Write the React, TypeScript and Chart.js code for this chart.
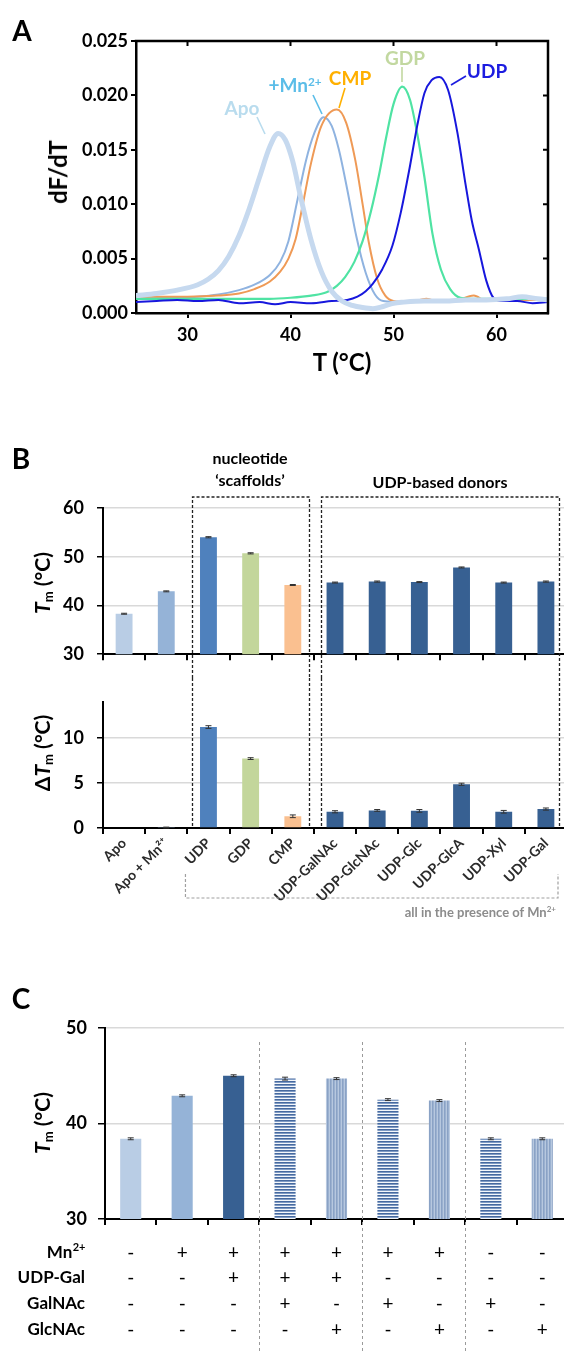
import React, { useEffect, useRef } from "react";
import { Chart, registerables } from "chart.js";
Chart.register(...registerables);

const FONT = "Lato, 'Open Sans', 'DejaVu Sans', sans-serif";
Chart.defaults.font.family = FONT;

// ---------------- Panel A data ----------------
const aXTicks = [30, 40, 50, 60];
const aYTicks = [0, 0.005, 0.01, 0.015, 0.02, 0.025];

const apoT = [25, 27, 29, 31, 32, 33, 34, 35, 36, 37, 38, 38.8, 39.5, 40.2, 41, 42, 43, 44, 45, 46, 47, 48, 49, 50, 51, 53, 55, 57, 59, 61, 62.5, 64, 65];
const apoDF = [0.0016, 0.0018, 0.0021, 0.0026, 0.0031, 0.0039, 0.0052, 0.0071, 0.0096, 0.0125, 0.0153, 0.0165, 0.0159, 0.014, 0.0106, 0.0067, 0.0038, 0.002, 0.0011, 0.0007, 0.0005, 0.0004, 0.0006, 0.0009, 0.001, 0.0011, 0.0011, 0.0012, 0.0012, 0.0013, 0.0015, 0.0013, 0.0012];

const mnT = [25, 28, 31, 33, 35, 36.5, 38, 39, 39.8, 40.7, 41.5, 42.3, 43.2, 44, 44.7, 45.5, 46.4, 47.3, 48.2, 49, 51, 55, 60, 65];
const mnDF = [0.0013, 0.0014, 0.0015, 0.0017, 0.0021, 0.0026, 0.0035, 0.0047, 0.0066, 0.0105, 0.014, 0.0165, 0.018, 0.0172, 0.015, 0.0114, 0.007, 0.0037, 0.0017, 0.0011, 0.001, 0.0011, 0.0012, 0.0012];

const cmpT = [25, 30, 33, 35, 36.5, 38, 39, 39.8, 40.5, 41.2, 42, 43, 44.5, 45.4, 46.3, 47, 47.6, 48.4, 49.2, 50, 51.5, 53.2, 54.5, 56, 57.8, 59, 62, 65];
const cmpDF = [0.0015, 0.0015, 0.0016, 0.0018, 0.0022, 0.0029, 0.0038, 0.005, 0.0068, 0.01, 0.0138, 0.0172, 0.0187, 0.0175, 0.014, 0.01, 0.0065, 0.0032, 0.0016, 0.0011, 0.001, 0.0013, 0.001, 0.0011, 0.0016, 0.0011, 0.0012, 0.0012];

const gdpT = [25, 30, 35, 38, 40, 42, 43.5, 44.5, 45.3, 46.2, 47, 47.8, 48.6, 49.3, 50, 50.85, 51.6, 52.3, 53, 53.8, 54.6, 55.5, 56.5, 58, 65];
const gdpDF = [0.0013, 0.0013, 0.0013, 0.0013, 0.0014, 0.0016, 0.0019, 0.0025, 0.0033, 0.0047, 0.0066, 0.0093, 0.0127, 0.0162, 0.0192, 0.0208, 0.0196, 0.0165, 0.0125, 0.0072, 0.004, 0.0022, 0.0014, 0.0013, 0.0013];

const udpT = [25, 27, 29, 31, 33, 35, 37, 38.5, 40, 42, 44, 45.5, 46.5, 47.3, 48, 48.9, 49.9, 50.7, 51.5, 52.3, 53, 53.7, 54.45, 55.3, 56.2, 57, 57.6, 58.3, 59, 59.7, 60.5, 62, 63.5, 65];
const udpDF = [0.001, 0.0011, 0.0012, 0.0011, 0.0012, 0.0009, 0.001, 0.0008, 0.001, 0.0009, 0.0011, 0.0012, 0.0015, 0.002, 0.0027, 0.004, 0.0062, 0.0092, 0.013, 0.0172, 0.0202, 0.0214, 0.0217, 0.0205, 0.0166, 0.0118, 0.0085, 0.0058, 0.003, 0.0014, 0.0011, 0.0011, 0.0009, 0.001];

// ---------------- Panel B data ----------------
const bCategories = ["Apo", "Apo + Mn²⁺", "UDP", "GDP", "CMP", "UDP-GalNAc", "UDP-GlcNAc", "UDP-Glc", "UDP-GlcA", "UDP-Xyl", "UDP-Gal"];
const bTm = [38.3, 42.9, 54.0, 50.7, 44.2, 44.7, 44.9, 44.8, 47.8, 44.7, 44.9];
const bTmErr = [0.1, 0.1, 0.12, 0.12, 0.1, 0.1, 0.12, 0.1, 0.1, 0.1, 0.12];
const bDTm = [0, 0.05, 11.2, 7.7, 1.3, 1.8, 1.95, 1.9, 4.85, 1.8, 2.1];
const bDTmErr = [0, 0.05, 0.15, 0.1, 0.15, 0.12, 0.1, 0.15, 0.12, 0.15, 0.12];
const bColors = ["#b9cde5", "#95b3d7", "#4f81bd", "#c3d69b", "#fac090", "#376092", "#376092", "#376092", "#376092", "#376092", "#376092"];

// ---------------- Panel C data ----------------
const cCategories = ["1", "2", "3", "4", "5", "6", "7", "8", "9"];
const cTm = [38.4, 42.9, 45.0, 44.7, 44.7, 42.5, 42.4, 38.4, 38.4];
const cTmErr = [0.1, 0.1, 0.1, 0.15, 0.1, 0.1, 0.1, 0.1, 0.1];
const cFills = ["solid1", "solid2", "solid3", "h", "v", "h", "v", "h", "v"];
const rowMn = ["-", "+", "+", "+", "+", "+", "+", "-", "-"];
const rowUdpGal = ["-", "-", "+", "+", "+", "-", "-", "-", "-"];
const rowGalNAc = ["-", "-", "-", "+", "-", "+", "-", "+", "-"];
const rowGlcNAc = ["-", "-", "-", "-", "+", "-", "+", "-", "+"];

const pts = (t: number[], y: number[]) => t.map((v, i) => ({ x: v, y: y[i] }));

// ---------------- plugins ----------------
const errPlugin = {
  id: "errbars",
  afterDatasetsDraw(chart: any, _a: any, opts: any) {
    if (!opts || !opts.errors) return;
    const meta = chart.getDatasetMeta(0);
    const ys = chart.scales.y;
    const ctx = chart.ctx;
    ctx.save();
    ctx.strokeStyle = opts.color || "#333";
    ctx.lineWidth = 1;
    meta.data.forEach((bar: any, i: number) => {
      const e = opts.errors[i];
      if (!e) return;
      const v = chart.data.datasets[0].data[i];
      const y1 = ys.getPixelForValue(v + e);
      const y2 = ys.getPixelForValue(Math.max(v - e, ys.min));
      const c = (opts.cap || 6) / 2;
      ctx.beginPath();
      ctx.moveTo(bar.x, y1);
      ctx.lineTo(bar.x, y2);
      ctx.moveTo(bar.x - c, y1);
      ctx.lineTo(bar.x + c, y1);
      ctx.moveTo(bar.x - c, y2);
      ctx.lineTo(bar.x + c, y2);
      ctx.stroke();
    });
    ctx.restore();
  },
};

const frameAPlugin = {
  id: "frameA",
  afterDraw(chart: any, _a: any, opts: any) {
    const { ctx, chartArea } = chart;
    const { left, right, top, bottom } = chartArea;
    const xs = chart.scales.x;
    const ys = chart.scales.y;
    ctx.save();
    ctx.strokeStyle = "#000";
    ctx.lineWidth = 2.5;
    ctx.beginPath();
    ctx.moveTo(left - 1.25, top);
    ctx.lineTo(right, top);
    ctx.lineTo(right, bottom + 1.25);
    ctx.stroke();
    ctx.lineWidth = 2;
    ctx.beginPath();
    aXTicks.forEach((v) => {
      const px = xs.getPixelForValue(v);
      ctx.moveTo(px, top);
      ctx.lineTo(px, top + 5);
    });
    aYTicks.forEach((v) => {
      const py = ys.getPixelForValue(v);
      ctx.moveTo(right, py);
      ctx.lineTo(right - 5, py);
    });
    ctx.stroke();
    (opts.leaders || []).forEach((l: any) => {
      ctx.strokeStyle = l.color;
      ctx.lineWidth = 1.6;
      ctx.beginPath();
      ctx.moveTo(l.x1, l.y1);
      ctx.lineTo(l.x2, l.y2);
      ctx.stroke();
    });
    ctx.restore();
  },
};

const boxPlugin = {
  id: "boxes",
  afterDraw(chart: any, _a: any, opts: any) {
    if (!opts || !opts.boxes) return;
    const { ctx } = chart;
    const xs = chart.scales.x;
    ctx.save();
    ctx.setLineDash([3, 2]);
    ctx.strokeStyle = "#222";
    ctx.lineWidth = 1.3;
    const bottom = opts.toChartBottom ? chart.chartArea.bottom : chart.height;
    opts.boxes.forEach((b: any) => {
      const l = Math.round(xs.getPixelForValue(b.from) - b.padL) + 0.5;
      const r = Math.round(xs.getPixelForValue(b.to) + b.padR) + 0.5;
      ctx.beginPath();
      if (opts.top != null) {
        ctx.moveTo(l, bottom);
        ctx.lineTo(l, opts.top);
        ctx.lineTo(r, opts.top);
        ctx.lineTo(r, bottom);
      } else {
        ctx.moveTo(l, 0);
        ctx.lineTo(l, bottom);
        ctx.moveTo(r, 0);
        ctx.lineTo(r, bottom);
      }
      ctx.stroke();
    });
    if (opts.bracket) {
      const br = opts.bracket;
      const l = xs.getPixelForValue(br.from) - br.padL;
      ctx.strokeStyle = "#a0a0a0";
      ctx.lineWidth = 1.2;
      ctx.beginPath();
      ctx.moveTo(l, br.y0);
      ctx.lineTo(l, br.y1);
      ctx.lineTo(br.right, br.y1);
      ctx.lineTo(br.right, br.y0);
      ctx.stroke();
    }
    ctx.restore();
  },
};

const tablePlugin = {
  id: "tableC",
  afterDraw(chart: any, _a: any, opts: any) {
    if (!opts || !opts.rows) return;
    const { ctx } = chart;
    const xs = chart.scales.x;
    ctx.save();
    ctx.setLineDash([3, 3]);
    ctx.strokeStyle = "#9a9a9a";
    ctx.lineWidth = 1;
    opts.separators.forEach((i: number) => {
      const px = Math.round((xs.getPixelForValue(i) + xs.getPixelForValue(i + 1)) / 2) + 0.5;
      ctx.beginPath();
      ctx.moveTo(px, opts.sepTop);
      ctx.lineTo(px, chart.height);
      ctx.stroke();
    });
    ctx.setLineDash([]);
    ctx.fillStyle = "#000";
    ctx.textBaseline = "middle";
    opts.rows.forEach((row: any, r: number) => {
      const yy = opts.rowY[r];
      const big = "bold 17px " + FONT;
      const small = "bold 11px " + FONT;
      ctx.font = big;
      const wMain = ctx.measureText(row.label).width;
      let wSup = 0;
      if (row.sup) {
        ctx.font = small;
        wSup = ctx.measureText(row.sup).width;
      }
      const x0 = opts.labelRight - wMain - wSup;
      ctx.font = big;
      ctx.textAlign = "left";
      ctx.fillText(row.label, x0, yy);
      if (row.sup) {
        ctx.font = small;
        ctx.fillText(row.sup, x0 + wMain + 0.5, yy - 6);
      }
      ctx.font = "19px " + FONT;
      ctx.textAlign = "center";
      row.values.forEach((s: string, i: number) => {
        ctx.fillText(s, xs.getPixelForValue(i), yy);
      });
    });
    ctx.restore();
  },
};

function makePattern(kind: string): any {
  const c = document.createElement("canvas");
  const g = c.getContext("2d") as CanvasRenderingContext2D;
  if (kind === "h") {
    c.width = 4;
    c.height = 3;
    const cols = ["#46699f", "#7f9bc4", "#f4f7fb"];
    cols.forEach((col, i) => {
      g.fillStyle = col;
      g.fillRect(0, i, 4, 1);
    });
  } else {
    c.width = 3;
    c.height = 4;
    const cols = ["#8aa2c5", "#9bb1d0", "#b7c8df"];
    cols.forEach((col, i) => {
      g.fillStyle = col;
      g.fillRect(i, 0, 1, 4);
    });
  }
  return g.createPattern(c, "repeat");
}

const tickFont = (size: number) => ({ family: FONT, size, weight: "bold" as const });

export default function App() {
  const aRef = useRef<HTMLCanvasElement>(null);
  const b1Ref = useRef<HTMLCanvasElement>(null);
  const b2Ref = useRef<HTMLCanvasElement>(null);
  const cRef = useRef<HTMLCanvasElement>(null);

  useEffect(() => {
    const charts: Chart[] = [];

    // ---------- Panel A ----------
    charts.push(
      new Chart(aRef.current as HTMLCanvasElement, {
        type: "line",
        data: {
          datasets: [
            { label: "Apo", data: pts(apoT, apoDF), borderColor: "#c6d9ef", borderWidth: 5 },
            { label: "UDP", data: pts(udpT, udpDF), borderColor: "#1717dd", borderWidth: 2 },
            { label: "GDP", data: pts(gdpT, gdpDF), borderColor: "#4fe3a3", borderWidth: 2.2 },
            { label: "CMP", data: pts(cmpT, cmpDF), borderColor: "#ef9a56", borderWidth: 2 },
            { label: "+Mn", data: pts(mnT, mnDF), borderColor: "#8fb3e0", borderWidth: 2 },
          ] as any,
        },
        options: {
          animation: false,
          responsive: false,
          maintainAspectRatio: false,
          elements: { point: { radius: 0 }, line: { cubicInterpolationMode: "monotone", fill: false } },
          layout: { autoPadding: false, padding: { left: 0, top: 41, right: 32, bottom: 27 } } as any,
          plugins: {
            legend: { display: false },
            tooltip: { enabled: false },
            frameA: {
              leaders: [
                { x1: 257, y1: 117, x2: 265, y2: 134, color: "#b9dcee" },
                { x1: 313, y1: 95, x2: 322, y2: 114, color: "#5bbde8" },
                { x1: 345, y1: 88, x2: 339, y2: 108, color: "#ffb000" },
                { x1: 402, y1: 67, x2: 402, y2: 82, color: "#c2d8a0" },
                { x1: 466, y1: 76, x2: 451, y2: 85, color: "#1c1ce0" },
              ],
            },
          } as any,
          scales: {
            x: {
              type: "linear",
              min: 25,
              max: 65,
              afterFit: (s: any) => {
                s.height = 40;
              },
              afterBuildTicks: (s: any) => {
                s.ticks = aXTicks.map((v) => ({ value: v }));
              },
              border: { display: true, color: "#000", width: 2.5 },
              grid: { drawOnChartArea: false, drawTicks: true, tickLength: 5, color: "#000", lineWidth: 2 },
              ticks: { font: tickFont(18), color: "#000", padding: 6 },
            },
            y: {
              min: 0,
              max: 0.025,
              afterFit: (s: any) => {
                s.width = 136;
              },
              afterBuildTicks: (s: any) => {
                s.ticks = aYTicks.map((v) => ({ value: v }));
              },
              border: { display: true, color: "#000", width: 2.5 },
              grid: { drawOnChartArea: false, drawTicks: true, tickLength: 5, color: "#000", lineWidth: 2 },
              ticks: { font: tickFont(18), color: "#000", padding: 3, callback: (v: any) => Number(v).toFixed(3) },
            },
          } as any,
        },
        plugins: [frameAPlugin],
      })
    );

    // ---------- Panel B (upper: Tm) ----------
    const bYBase = {
      border: { display: true, color: "#000", width: 2 },
      grid: { drawOnChartArea: true, drawTicks: true, tickLength: 6, color: "#d9d9d9", lineWidth: 1.5, tickColor: "#000" },
      afterFit: (s: any) => {
        s.width = 103;
      },
    };
    charts.push(
      new Chart(b1Ref.current as HTMLCanvasElement, {
        type: "bar",
        data: {
          labels: bCategories,
          datasets: [{ data: bTm, backgroundColor: bColors, borderWidth: 0, barPercentage: 0.4, categoryPercentage: 1 }],
        },
        options: {
          animation: false,
          responsive: false,
          maintainAspectRatio: false,
          layout: { autoPadding: false, padding: { left: 0, top: 68, right: 13, bottom: 0 } } as any,
          plugins: {
            legend: { display: false },
            tooltip: { enabled: false },
            errbars: { errors: bTmErr, cap: 6, color: "#333" },
            boxes: {
              top: 57,
              boxes: [
                { from: 2, to: 4, padL: 16, padR: 16.5 },
                { from: 5, to: 10, padL: 14, padR: 13.5 },
              ],
            },
          } as any,
          scales: {
            x: {
              afterFit: (s: any) => {
                s.height = 20;
              },
              border: { display: true, color: "#000", width: 2 },
              grid: { drawOnChartArea: false, drawTicks: true, tickLength: 6, color: "#000", lineWidth: 2, offset: true },
              ticks: { display: false },
            },
            y: {
              ...bYBase,
              min: 30,
              max: 60,
              ticks: { stepSize: 10, font: tickFont(18), color: "#000", padding: 13 },
            },
          } as any,
        },
        plugins: [errPlugin, boxPlugin],
      })
    );

    // ---------- Panel B (lower: dTm) ----------
    charts.push(
      new Chart(b2Ref.current as HTMLCanvasElement, {
        type: "bar",
        data: {
          labels: bCategories,
          datasets: [{ data: bDTm, backgroundColor: bColors, borderWidth: 0, barPercentage: 0.4, categoryPercentage: 1 }],
        },
        options: {
          animation: false,
          responsive: false,
          maintainAspectRatio: false,
          layout: { autoPadding: false, padding: { left: 0, top: 0, right: 13, bottom: 0 } } as any,
          plugins: {
            legend: { display: false },
            tooltip: { enabled: false },
            errbars: { errors: bDTmErr, cap: 6, color: "#333" },
            boxes: {
              toChartBottom: true,
              boxes: [
                { from: 2, to: 4, padL: 16, padR: 16.5 },
                { from: 5, to: 10, padL: 14, padR: 13.5 },
              ],
              bracket: { from: 2, padL: 23, right: 558, y0: 196, y1: 220 },
            },
          } as any,
          scales: {
            x: {
              afterFit: (s: any) => {
                s.height = 100;
              },
              border: { display: true, color: "#000", width: 2 },
              grid: { drawOnChartArea: false, drawTicks: true, tickLength: 6, color: "#000", lineWidth: 2, offset: true },
              ticks: { font: tickFont(14), color: "#2b2b2b", minRotation: 45, maxRotation: 45, autoSkip: false, padding: 1 },
            },
            y: {
              ...bYBase,
              min: 0,
              max: 14,
              ticks: { stepSize: 5, includeBounds: false, font: tickFont(18), color: "#000", padding: 13 },
            },
          } as any,
        },
        plugins: [errPlugin, boxPlugin],
      })
    );

    // ---------- Panel C ----------
    const solid: Record<string, string> = { solid1: "#b9cde5", solid2: "#95b3d7", solid3: "#376092" };
    const hp = makePattern("h");
    const vp = makePattern("v");
    const cBg = cFills.map((f) => (f === "h" ? hp : f === "v" ? vp : solid[f]));
    charts.push(
      new Chart(cRef.current as HTMLCanvasElement, {
        type: "bar",
        data: {
          labels: cCategories,
          datasets: [{ data: cTm, backgroundColor: cBg, borderWidth: 0, barPercentage: 0.41, categoryPercentage: 1 }],
        },
        options: {
          animation: false,
          responsive: false,
          maintainAspectRatio: false,
          layout: { autoPadding: false, padding: { left: 0, top: 28, right: 12, bottom: 0 } } as any,
          plugins: {
            legend: { display: false },
            tooltip: { enabled: false },
            errbars: { errors: cTmErr, cap: 6, color: "#333" },
            tableC: {
              separators: [2, 4, 6],
              sepTop: 42,
              labelRight: 85,
              rowY: [253, 278, 304, 330],
              rows: [
                { label: "Mn", sup: "2+", values: rowMn },
                { label: "UDP-Gal", values: rowUdpGal },
                { label: "GalNAc", values: rowGalNAc },
                { label: "GlcNAc", values: rowGlcNAc },
              ],
            },
          } as any,
          scales: {
            x: {
              afterFit: (s: any) => {
                s.height = 134;
              },
              border: { display: true, color: "#000", width: 2 },
              grid: { drawOnChartArea: false, drawTicks: true, tickLength: 6, color: "#000", lineWidth: 2, offset: true },
              ticks: { display: false },
            },
            y: {
              min: 30,
              max: 50,
              afterFit: (s: any) => {
                s.width = 105;
              },
              border: { display: true, color: "#000", width: 2 },
              grid: { drawOnChartArea: true, drawTicks: true, tickLength: 7, color: "#d9d9d9", lineWidth: 1.5, tickColor: "#000" },
              ticks: { stepSize: 10, font: tickFont(18), color: "#000", padding: 11 },
            },
          } as any,
        },
        plugins: [errPlugin, tablePlugin],
      })
    );

    return () => charts.forEach((c) => c.destroy());
  }, []);

  const abs = (left: number, top: number): React.CSSProperties => ({ position: "absolute", left, top });
  const centered = (x: number, y: number, extra: React.CSSProperties = {}): React.CSSProperties => ({
    position: "absolute",
    left: x,
    top: y,
    transform: "translate(-50%, -50%)",
    whiteSpace: "nowrap",
    lineHeight: 1,
    fontFamily: FONT,
    fontWeight: "bold",
    ...extra,
  });
  const vertical = (x: number, y: number, size: number): React.CSSProperties => ({
    ...centered(x, y, { fontSize: size }),
    transform: "translate(-50%, -50%) rotate(-90deg)",
  });
  const subStyle: React.CSSProperties = { fontSize: "0.62em", verticalAlign: "-0.25em", fontStyle: "normal" };
  const supStyle: React.CSSProperties = { fontSize: "0.62em", verticalAlign: "0.5em" };

  return (
    <div style={{ position: "absolute", left: 0, top: 0, width: 564, height: 1353, overflow: "hidden", background: "#fff" }}>
      <canvas ref={aRef} width={580} height={380} style={{ ...abs(0, 0), width: 580, height: 380 }} />
      <canvas ref={b1Ref} width={580} height={238} style={{ ...abs(0, 440), width: 580, height: 238 }} />
      <canvas ref={b2Ref} width={580} height={250} style={{ ...abs(0, 678), width: 580, height: 250 }} />
      <canvas ref={cRef} width={580} height={353} style={{ ...abs(0, 1000), width: 580, height: 353 }} />

      {/* Panel letters */}
      <div style={centered(22, 30, { fontSize: 28 })}>A</div>
      <div style={centered(21, 458, { fontSize: 28 })}>B</div>
      <div style={centered(21, 998, { fontSize: 28 })}>C</div>

      {/* Panel A texts */}
      <div style={vertical(58, 172, 24)}>dF/dT</div>
      <div style={centered(342, 362, { fontSize: 24 })}>T (°C)</div>
      <div style={centered(242, 107, { fontSize: 19, color: "#b9dcee" })}>Apo</div>
      <div style={centered(295, 84, { fontSize: 19, color: "#5bbde8" })}>
        +Mn<span style={supStyle}>2+</span>
      </div>
      <div style={centered(350, 77, { fontSize: 19, color: "#ffb000" })}>CMP</div>
      <div style={centered(405, 57, { fontSize: 19, color: "#c2d8a0" })}>GDP</div>
      <div style={centered(487, 70, { fontSize: 19, color: "#1c1ce0" })}>UDP</div>

      {/* Panel B texts */}
      <div style={centered(250, 458, { fontSize: 16 })}>nucleotide</div>
      <div style={centered(250, 480, { fontSize: 16 })}>‘scaffolds’</div>
      <div style={centered(440, 482, { fontSize: 16 })}>UDP-based donors</div>
      <div style={vertical(43, 583, 21)}>
        <span style={{ fontStyle: "italic" }}>T</span>
        <span style={subStyle}>m</span> (°C)
      </div>
      <div style={vertical(43, 753, 21)}>
        Δ<span style={{ fontStyle: "italic" }}>T</span>
        <span style={subStyle}>m</span> (°C)
      </div>
      <div
        style={{
          position: "absolute",
          right: 564 - 556,
          top: 912,
          transform: "translateY(-50%)",
          whiteSpace: "nowrap",
          lineHeight: 1,
          fontFamily: FONT,
          fontWeight: "bold",
          fontSize: 13,
          color: "#8c8c8c",
        }}
      >
        all in the presence of Mn<span style={supStyle}>2+</span>
      </div>

      {/* Panel C texts */}
      <div style={vertical(43, 1123, 21)}>
        <span style={{ fontStyle: "italic" }}>T</span>
        <span style={subStyle}>m</span> (°C)
      </div>
    </div>
  );
}
